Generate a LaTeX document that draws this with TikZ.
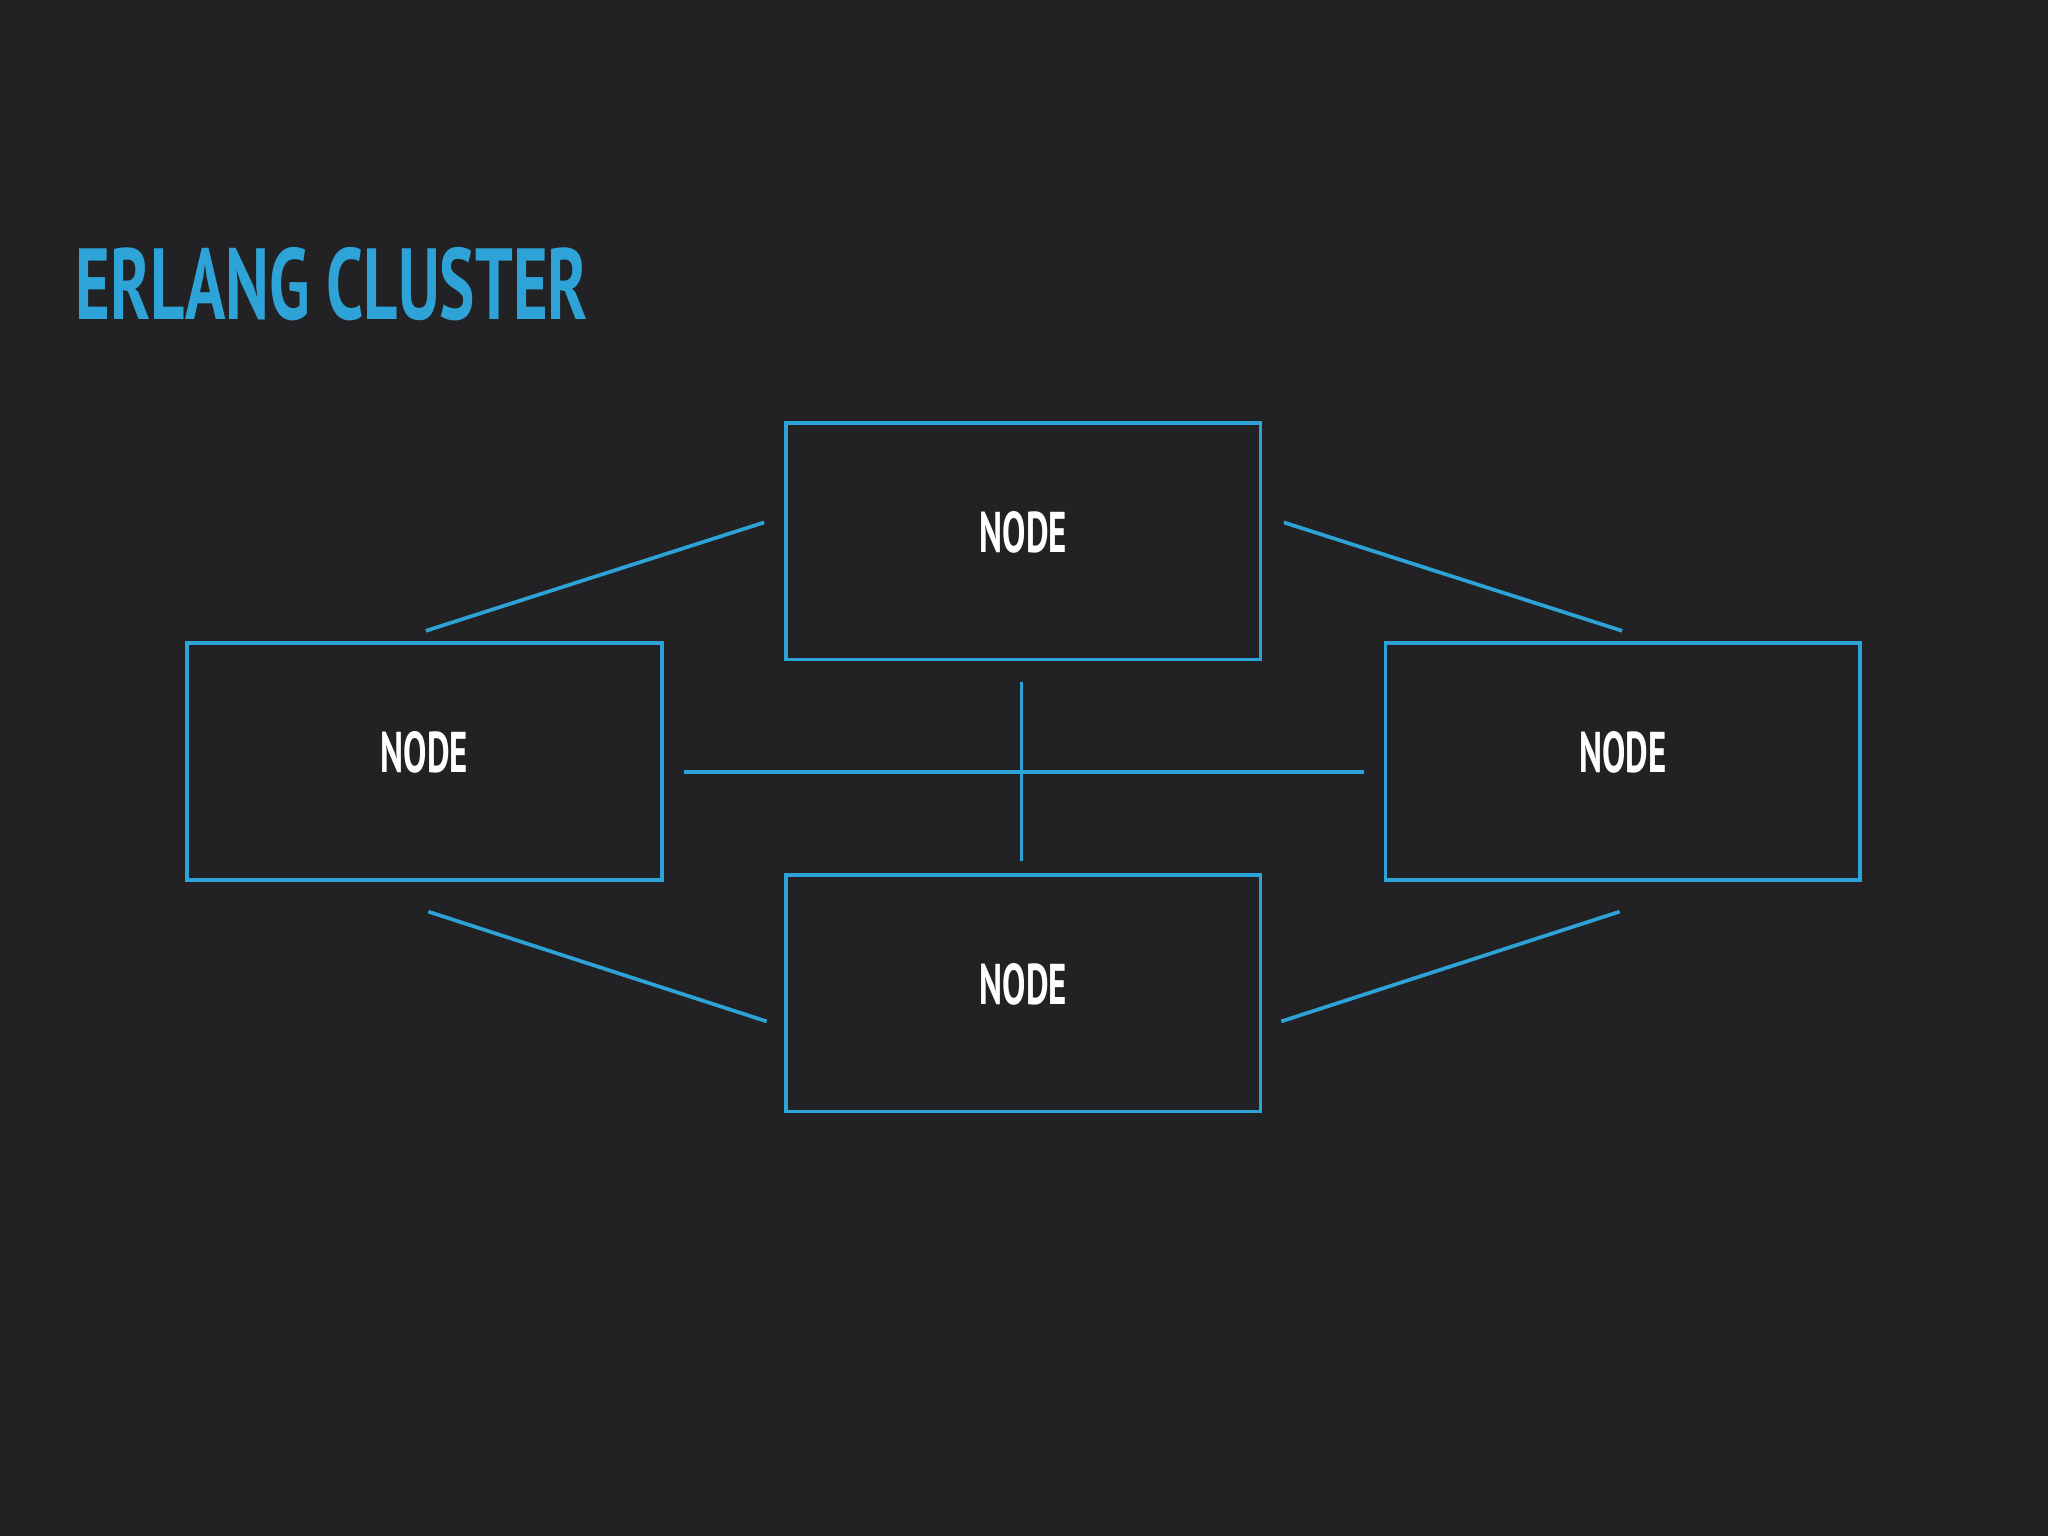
\documentclass[tikz,border=0pt]{standalone}
\usepackage{fontspec}
\setmainfont{PT Sans}[FakeStretch=0.78]
\definecolor{bg}{HTML}{222224}
\definecolor{eblue}{HTML}{2EA3D8}
\newcommand{\nodetext}{\raisebox{1.4mm}{\scalebox{0.78}[1]{NODE}}}
\begin{document}
\begin{tikzpicture}[x=0.01cm,y=-0.01cm,
  box/.style={draw=eblue,line width=0.8pt,minimum width=3.63cm,minimum height=1.81cm,inner sep=0pt,text=white,font=\bfseries\fontsize{12.5}{13}\selectfont},
  link/.style={eblue,line width=0.8pt}]
\fill[bg] (0,0) rectangle (1568,1176);
\useasboundingbox (0,0) rectangle (1568,1176);
\node[anchor=base west,text=eblue,font=\bfseries\fontsize{22}{24}\selectfont,inner sep=0pt] (title) at (57,245) {\scalebox{0.845}[1]{ERLANG CLUSTER}};
\node[box] (top) at (783.5,414.5) {\nodetext};
\node[box] (left) at (325,583) {\nodetext};
\node[box] (right) at (1242.5,583) {\nodetext};
\node[box] (bot) at (783.5,760.5) {\nodetext};
\coordinate (a1) at (326,483); \coordinate (a2) at (585,400);
\coordinate (b1) at (983,400); \coordinate (b2) at (1242,483);
\coordinate (c1) at (328,698); \coordinate (c2) at (587,782);
\coordinate (d1) at (981,782); \coordinate (d2) at (1240,698);
\coordinate (h1) at (524,591); \coordinate (h2) at (1044,591);
\coordinate (v1) at (782,522); \coordinate (v2) at (782,659);
\draw[link] (a1)--(a2); \draw[link] (b1)--(b2);
\draw[link] (c1)--(c2); \draw[link] (d1)--(d2);
\draw[link] (h1)--(h2); \draw[link] (v1)--(v2);
\end{tikzpicture}
\end{document}
